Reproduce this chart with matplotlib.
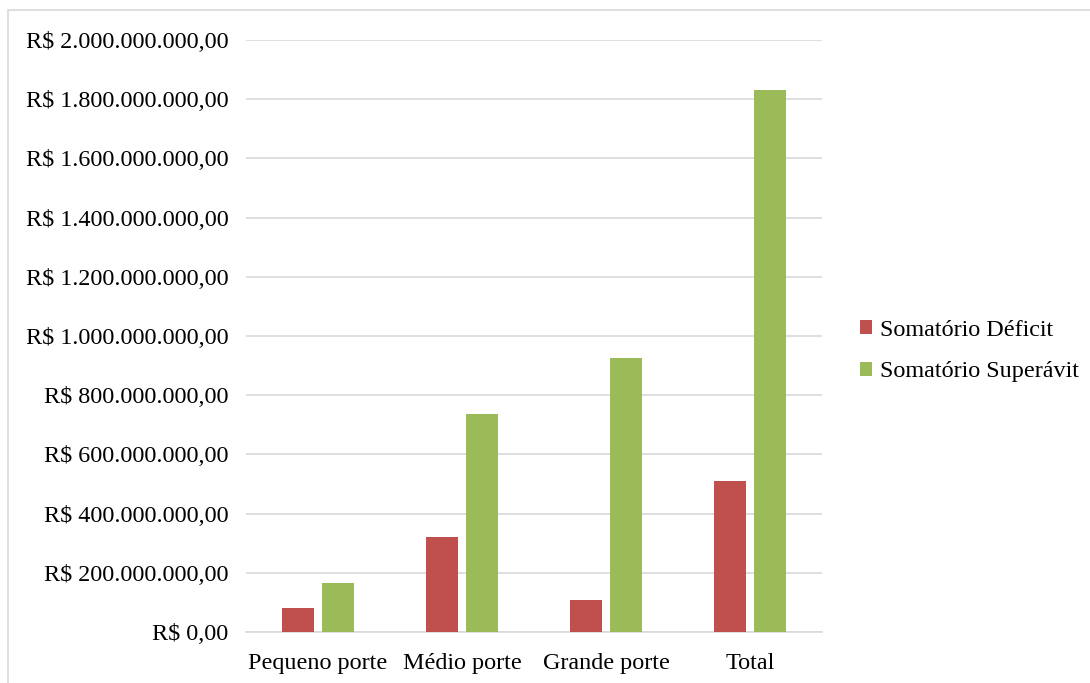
import matplotlib
matplotlib.use("Agg")
import matplotlib.pyplot as plt
from matplotlib.ticker import FuncFormatter
from matplotlib.patches import Rectangle
import numpy as np

categories = ["Pequeno porte", "Médio porte", "Grande porte", "Total"]
deficit = [81e6, 321e6, 108e6, 510e6]
superavit = [166e6, 736e6, 926e6, 1830e6]
series_names = ["Somatório Déficit", "Somatório Superávit"]
colors = ["#C0504D", "#9BBB59"]

plt.rcParams['font.family'] = ['Liberation Serif', 'DejaVu Serif']

W, H = 1090, 683
fig = plt.figure(figsize=(W/100, H/100), dpi=100)
ax = fig.add_axes([246/W, 1-632/H, (822-246)/W, (632-40)/H])

x = np.arange(len(categories))
bw = 0.22
off = 0.138
ax.bar(x - off, deficit, bw, color=colors[0], label=series_names[0], zorder=3)
ax.bar(x + off, superavit, bw, color=colors[1], label=series_names[1], zorder=3)

ax.set_xlim(-0.5, len(categories) - 0.5)
ax.set_ylim(0, 2e9)
ax.set_yticks(np.arange(0, 2e9 + 1, 2e8))

def fmt(v, pos):
    if v == 0:
        return "R$ 0,00"
    s = f"{int(round(v)):,}".replace(",", ".")
    return f"R$ {s},00"

ax.yaxis.set_major_formatter(FuncFormatter(fmt))
ax.set_xticks(x)
ax.set_xticklabels(categories)
ax.tick_params(axis='both', length=0, labelsize=17.4, colors='black')
ax.tick_params(axis='y', pad=12.5)
ax.tick_params(axis='x', pad=15)
ax.grid(axis='y', color='#D9D9D9', linewidth=1.2, zorder=0)
for s in ['top', 'right', 'left']:
    ax.spines[s].set_visible(False)
ax.spines['bottom'].set_color('#D9D9D9')
ax.spines['bottom'].set_linewidth(1.2)

leg = fig.legend(loc='center left', bbox_to_anchor=(838/W, 1-351/H), frameon=False,
                 fontsize=17.4, handlelength=0.5, handleheight=0.5, handletextpad=0.35,
                 labelspacing=0.85)

fig.patches.append(Rectangle((8/W, -0.05), 1.2, 1.05-10/H, transform=fig.transFigure,
                             fill=False, edgecolor='#D9D9D9', linewidth=1.2))

fig.savefig("out.png", dpi=100)
